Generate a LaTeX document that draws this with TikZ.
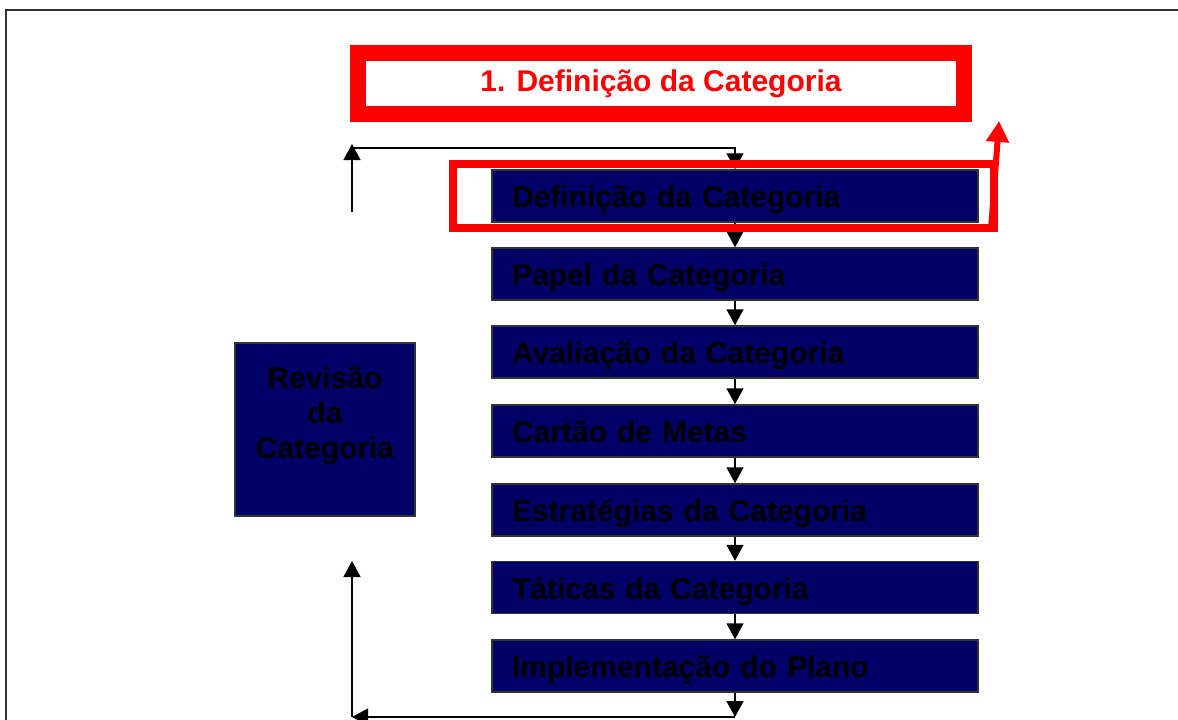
\documentclass[tikz,border=0pt]{standalone}
\usepackage{fontspec}
\setmainfont{Liberation Sans}
\usetikzlibrary{arrows.meta}
\definecolor{navy}{RGB}{0,0,102}
\definecolor{frame}{RGB}{50,50,50}
\begin{document}
\begin{tikzpicture}[x=1pt,y=-1pt,
  stepbox/.style={draw=black!80, line width=1.5pt, fill=navy, minimum width=486pt, minimum height=52pt,
    inner xsep=20pt, inner ysep=0pt, text width=446pt, align=left, text=black,
    text height=25pt, text depth=2pt,
    font=\fontsize{30}{34}\selectfont\bfseries},
  arr/.style={-{Triangle[width=17pt,length=16pt]}, line width=1.5pt, black},
  redarr/.style={-{Triangle[width=22pt,length=21pt]}, line width=6pt, red},
]
\useasboundingbox (0,0) rectangle (1178,720);
\fill[white] (0,0) rectangle (1178,720);
\draw[frame, line width=2pt] (6,720) -- (6,10) -- (1178,10);

% title box
\node[draw=red, line width=16pt, minimum width=606pt, minimum height=61pt, inner sep=0pt,
  text=red, font=\fontsize{30}{34}\selectfont\bfseries] (title) at (661,83.5) {1. Definição da Categoria};

% steps
\node[stepbox] (b1) at (735,196) {Definição da Categoria};
\node[stepbox] (b2) at (735,274) {Papel da Categoria};
\node[stepbox] (b3) at (735,352) {Avaliação da Categoria};
\node[stepbox] (b4) at (735,431) {Cartão de Metas};
\node[stepbox] (b5) at (735,510) {Estratégias da Categoria};
\node[stepbox] (b6) at (735,587.5) {Táticas da Categoria};
\node[stepbox] (b7) at (735,666) {Implementação do Plano};

% review box
\node[draw=black!80, line width=1.5pt, fill=navy, minimum width=180pt, minimum height=173pt, inner sep=0pt] (rev) at (325,429.5) {};
\node[text=black, align=center, font=\fontsize{30}{35}\selectfont\bfseries, yshift=14pt] (revt) at (rev.center) {Revisão\\da\\Categoria};

% arrows between steps
\draw[arr] (b1.south) -- (b2.north);
\draw[arr] (b2.south) -- (b3.north);
\draw[arr] (b3.south) -- (b4.north);
\draw[arr] (b4.south) -- (b5.north);
\draw[arr] (b5.south) -- (b6.north);
\draw[arr] (b6.south) -- (b7.north);

% top loop
\coordinate (tl0) at (352,212);
\coordinate (tl1) at (352,144);
\coordinate (tl2) at (352,148);
\draw[arr] (tl0) -- (tl1);
\draw[arr] (tl2) -| (b1.north);

% bottom loop
\coordinate (bl0) at (735,717);
\coordinate (bl1) at (352,717);
\coordinate (bl2) at (352,561);
\draw[arr] (b7.south) -- (bl0);
\draw[arr] (bl0) -- (bl1);
\draw[arr] (bl1) -- (bl2);

% highlight frame
\node[draw=red, line width=8pt, minimum width=541pt, minimum height=64pt, inner sep=0pt] (hl) at (723.5,196) {};
\coordinate (rstart) at (991,230);
\coordinate (rtip) at (999,121);
\draw[redarr] (rstart) -- (rtip);
\end{tikzpicture}
\end{document}
